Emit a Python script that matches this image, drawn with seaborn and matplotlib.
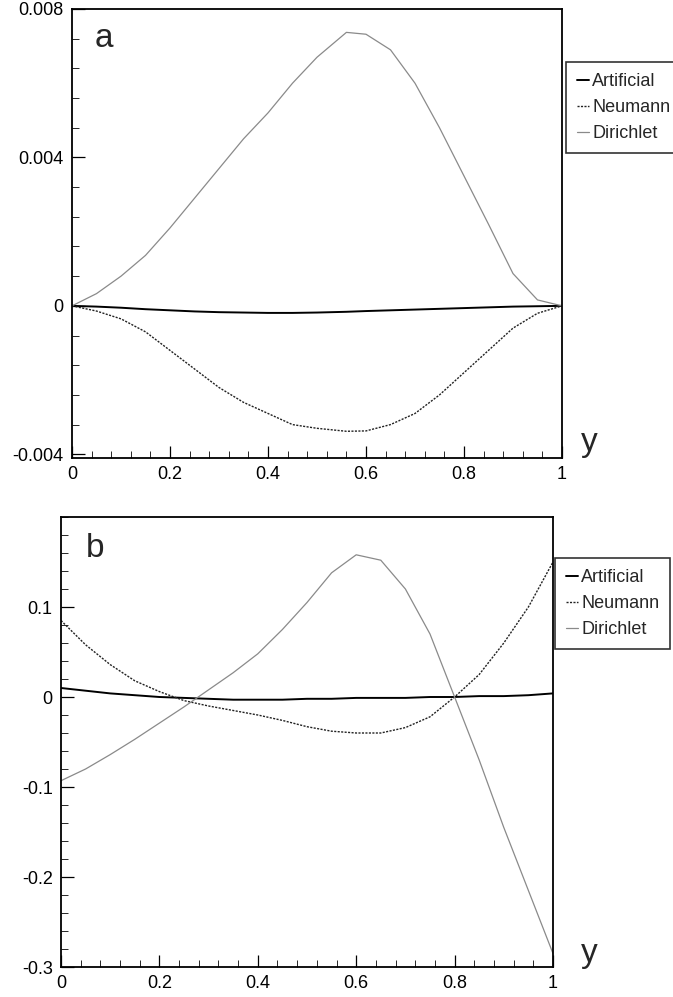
import numpy as np
import pandas as pd
import matplotlib
matplotlib.use("Agg")
import matplotlib.pyplot as plt
from matplotlib.ticker import MultipleLocator
from matplotlib.lines import Line2D
import seaborn as sns

# ---------------- data ----------------
x_a = [0, 0.05, 0.1, 0.15, 0.2, 0.25, 0.3, 0.35, 0.4, 0.45, 0.5,
       0.56, 0.6, 0.65, 0.7, 0.75, 0.8, 0.85, 0.9, 0.95, 1.0]
artificial_a = [0, -0.00002, -0.00005, -0.00009, -0.00012, -0.00015, -0.00017,
                -0.00018, -0.00019, -0.00019, -0.00018, -0.00016, -0.00014,
                -0.00012, -0.0001, -0.00008, -0.00006, -0.00004, -0.00002,
                -0.00001, 0]
neumann_a = [0, -0.00014, -0.00035, -0.0007, -0.0012, -0.0017, -0.0022,
             -0.0026, -0.0029, -0.0032, -0.0033, -0.00338, -0.00337, -0.0032,
             -0.0029, -0.0024, -0.0018, -0.0012, -0.0006, -0.0002, 0]
dirichlet_a = [0, 0.00033, 0.0008, 0.00136, 0.0021, 0.0029, 0.0037, 0.0045,
               0.0052, 0.006, 0.0067, 0.00737, 0.00732, 0.0069, 0.006, 0.0048,
               0.0035, 0.0022, 0.00087, 0.00016, 0]

x_b = [0, 0.05, 0.1, 0.15, 0.2, 0.25, 0.3, 0.35, 0.4, 0.45, 0.5,
       0.55, 0.6, 0.65, 0.7, 0.75, 0.8, 0.85, 0.9, 0.95, 1.0]
artificial_b = [0.010, 0.007, 0.004, 0.002, 0.0, -0.001, -0.002, -0.003, -0.003,
                -0.003, -0.002, -0.002, -0.001, -0.001, -0.001, 0.0, 0.0, 0.001,
                0.001, 0.002, 0.004]
neumann_b = [0.085, 0.058, 0.036, 0.018, 0.006, -0.004, -0.010, -0.015, -0.020,
             -0.026, -0.033, -0.038, -0.040, -0.040, -0.034, -0.022, 0.0, 0.025,
             0.06, 0.1, 0.15]
dirichlet_b = [-0.093, -0.08, -0.064, -0.047, -0.029, -0.011, 0.008, 0.027,
               0.048, 0.075, 0.105, 0.138, 0.158, 0.152, 0.12, 0.07, 0.0,
               -0.07, -0.145, -0.215, -0.285]

series_names = ["Artificial", "Neumann", "Dirichlet"]
xticks = [0, 0.2, 0.4, 0.6, 0.8, 1.0]
xtick_labels = ["0", "0.2", "0.4", "0.6", "0.8", "1"]
yticks_a = [-0.004, 0, 0.004, 0.008]
ytick_labels_a = ["-0.004", "0", "0.004", "0.008"]
yticks_b = [-0.3, -0.2, -0.1, 0, 0.1]
ytick_labels_b = ["-0.3", "-0.2", "-0.1", "0", "0.1"]

# ---------------- style ----------------
sns.set_style("white")
plt.rcParams["font.family"] = ["Liberation Sans", "DejaVu Sans"]

styles = {
    "Artificial": dict(color="black", lw=1.4, ls="-"),
    "Neumann": dict(color="#222222", lw=1.0, ls=(0, (1.5, 1.0))),
    "Dirichlet": dict(color="#8a8a8a", lw=0.9, ls="-"),
}

W, H = 673, 997
fig = plt.figure(figsize=(W / 100, H / 100), dpi=100)
ax_a = fig.add_axes([72 / W, 1 - 458 / H, 490 / W, 449 / H])
ax_b = fig.add_axes([61 / W, 1 - 967 / H, 492 / W, 450 / H])


def draw(ax, x, ys, ylim, yticks, ylabels, yminor, label, label_pos, leg_anchor, ypos_lbl):
    df = pd.DataFrame({"x": x})
    for name, y in zip(series_names, ys):
        df[name] = y
    long = df.melt(id_vars="x", var_name="series", value_name="v")
    for name in series_names:
        st = styles[name]
        sns.lineplot(data=long[long["series"] == name], x="x", y="v", ax=ax,
                     color=st["color"], linewidth=st["lw"], linestyle=st["ls"],
                     legend=False, errorbar=None)
    ax.set_xlim(0, 1)
    ax.set_ylim(*ylim)
    ax.set_xlabel("")
    ax.set_ylabel("")
    ax.set_xticks(xticks)
    ax.set_xticklabels(xtick_labels)
    ax.set_yticks(yticks)
    ax.set_yticklabels(ylabels)
    ax.xaxis.set_minor_locator(MultipleLocator(0.04))
    ax.yaxis.set_minor_locator(MultipleLocator(yminor))
    ax.tick_params(axis="both", which="major", direction="in", length=9,
                   width=0.9, labelsize=13, colors="black", pad=6,
                   top=False, right=False, bottom=True, left=True)
    ax.tick_params(axis="both", which="minor", direction="in", length=5,
                   width=0.7, top=False, right=False, bottom=True, left=True)
    for sp in ax.spines.values():
        sp.set_color("black")
        sp.set_linewidth(1.3)
    ax.text(label_pos[0], label_pos[1], label, transform=ax.transAxes,
            fontsize=24, ha="center", va="center")
    fig.text(ypos_lbl[0] / W, 1 - ypos_lbl[1] / H, "y", fontsize=24,
             ha="center", va="center")
    handles = [Line2D([0], [0], color=styles[n]["color"], lw=styles[n]["lw"],
                      ls=styles[n]["ls"]) for n in series_names]
    leg = fig.legend(handles, series_names, loc="upper left",
                     bbox_to_anchor=leg_anchor, bbox_transform=fig.transFigure,
                     frameon=True, fancybox=False, handlelength=0.7,
                     handletextpad=0.15, labelspacing=0.5, borderpad=0.6,
                     borderaxespad=0, prop={"size": 13})
    leg.get_frame().set_edgecolor("black")
    leg.get_frame().set_linewidth(1.2)


draw(ax_a, x_a, [artificial_a, neumann_a, dirichlet_a], (-0.0041, 0.008),
     yticks_a, ytick_labels_a, 0.0008, "a", (0.065, 0.935),
     (566 / W, 1 - 62 / H), (589, 443))
draw(ax_b, x_b, [artificial_b, neumann_b, dirichlet_b], (-0.3, 0.2),
     yticks_b, ytick_labels_b, 0.02, "b", (0.07, 0.93),
     (555 / W, 1 - 558 / H), (589, 953))

fig.savefig("out.png", dpi=100)
